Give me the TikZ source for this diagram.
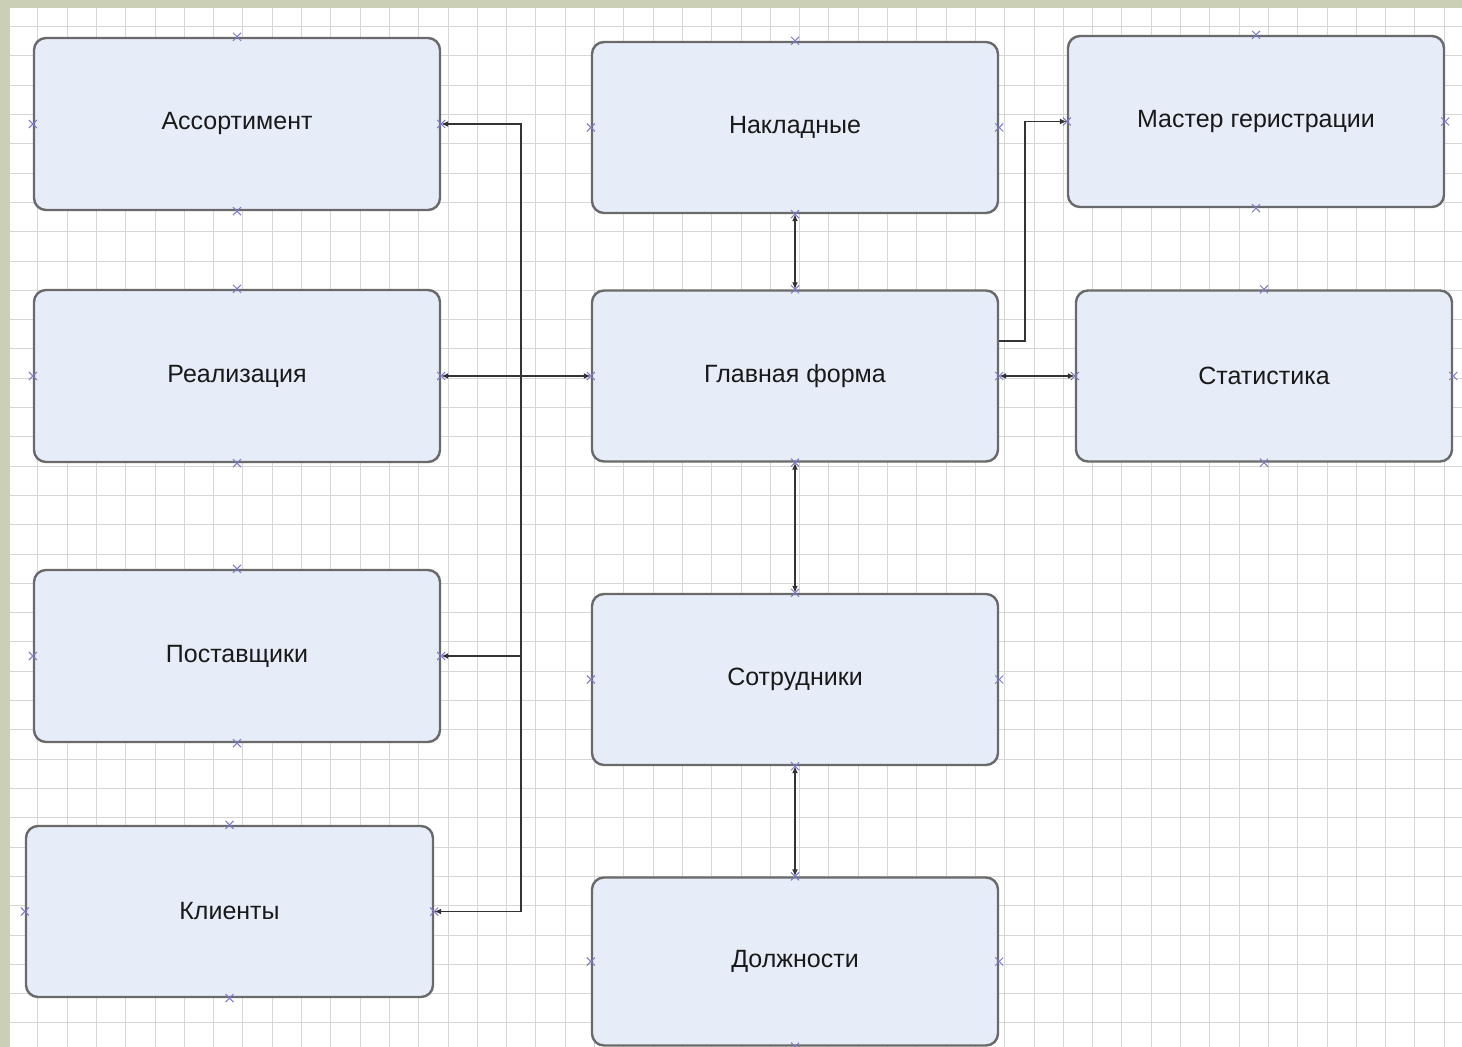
\documentclass[tikz,border=0pt]{standalone}
\usepackage{fontspec}
\setmainfont{Liberation Sans}
\usetikzlibrary{arrows.meta,shapes.misc}
\definecolor{frameC}{HTML}{CBCFB6}
\definecolor{gridC}{HTML}{D6D6D6}
\definecolor{boxFill}{HTML}{E7EDF8}
\definecolor{boxLine}{HTML}{6A6A6A}
\definecolor{connC}{HTML}{333333}
\definecolor{cptC}{HTML}{7A7AC8}
\tikzset{
  box/.style={draw=boxLine, fill=boxFill, line width=1.2pt, rounded corners=6pt,
    inner sep=0pt, font=\fontsize{12.5}{14}\selectfont, text=black!90},
  conn/.style={draw=connC, line width=0.9pt, {Latex[length=3.5pt,width=3pt]}-{Latex[length=3.5pt,width=3pt]}},
  connL/.style={draw=connC, line width=0.9pt, {Latex[length=3.5pt,width=3pt]}-},
  connR/.style={draw=connC, line width=0.9pt, -{Latex[length=3.5pt,width=3pt]}},
  cpt/.style={cross out, draw=cptC, line width=0.5pt, minimum size=3.5pt, inner sep=0pt}
}
\begin{document}
\begin{tikzpicture}[x=0.5pt,y=-0.5pt]
\useasboundingbox (0,0) rectangle (1462,1047);
\fill[white] (0,0) rectangle (1462,1047);
% grid
\foreach \i in {0,...,49} {
  \pgfmathsetmacro\gx{8.5+29.3*\i}
  \draw[gridC, line width=0.5pt] (\gx,8) -- (\gx,1047);
}
\foreach \j in {0,...,35} {
  \pgfmathsetmacro\gy{26.7+29.3*\j}
  \draw[gridC, line width=0.5pt] (10,\gy) -- (1462,\gy);
}
% frame
\fill[frameC] (0,0) rectangle (1462,8);
\fill[frameC] (0,0) rectangle (10,1047);
% boxes
\node[box, minimum width=203pt, minimum height=86pt] (ass) at (237,124) {Ассортимент};
\node[box, minimum width=203pt, minimum height=86pt] (real) at (237,376) {Реализация};
\node[box, minimum width=203pt, minimum height=86pt] (post) at (237,656) {Поставщики};
\node[box, minimum width=203.5pt, minimum height=85.5pt] (kli) at (229.5,911.5) {Клиенты};
\node[box, minimum width=203pt, minimum height=85.5pt] (nakl) at (795,127.5) {Накладные};
\node[box, minimum width=203pt, minimum height=85.5pt] (glav) at (795,376) {Главная форма};
\node[box, minimum width=203pt, minimum height=85.5pt] (sotr) at (795,679.5) {Сотрудники};
\node[box, minimum width=203pt, minimum height=84pt] (dolzh) at (795,961.5) {Должности};
\node[box, minimum width=188pt, minimum height=85.5pt] (mast) at (1256,121.5) {Мастер геристрации};
\node[box, minimum width=188pt, minimum height=85.5pt] (stat) at (1264,376) {Статистика};
% connectors
\coordinate (bus) at (521,0);
\coordinate (g1) at (0,341);
\coordinate (g2) at (1025,0);
\draw[conn] (ass.east) -- (ass.east -| bus) |- (kli.east);
\draw[conn] (real.east) -- (glav.west);
\draw[connL] (post.east) -- (post.east -| bus);
\draw[conn] (nakl.south) -- (glav.north);
\draw[conn] (glav.south) -- (sotr.north);
\draw[conn] (sotr.south) -- (dolzh.north);
\draw[connR] (glav.east |- g1) -- (g2 |- g1) |- (mast.west);
\draw[conn] (glav.east) -- (stat.west);
% connection points
\foreach \n in {ass,real,post,kli,nakl,glav,sotr,dolzh,mast,stat} {
  \foreach \a in {north,south,east,west} {
    \node[cpt] at (\n.\a) {};
  }
}
\end{tikzpicture}
\end{document}
